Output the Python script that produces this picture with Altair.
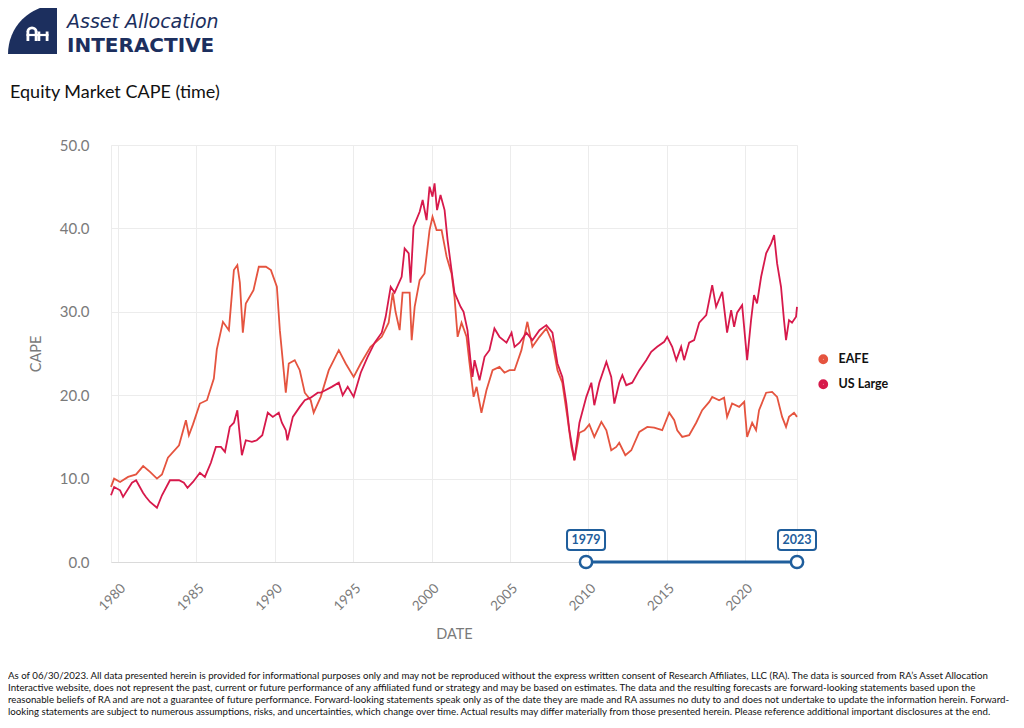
import altair as alt
import pandas as pd

# ---- data (decimal years, CAPE) ----
eafe_year = [1979.55, 1979.75, 1980.13, 1980.64, 1981.15, 1981.6, 1982.04, 1982.48, 1982.8, 1983.18,
             1983.89, 1984.33, 1984.52, 1984.78, 1985.22, 1985.67, 1986.11, 1986.3, 1986.69, 1987.07,
             1987.39, 1987.61, 1987.77, 1987.96, 1988.15, 1988.64, 1988.98, 1989.43, 1989.75, 1990.13,
             1990.32, 1990.7, 1990.89, 1991.27, 1991.59, 1991.91, 1992.29, 1992.48, 1992.93, 1993.44,
             1993.76, 1994.08, 1994.52, 1995.03, 1995.48, 1996.11, 1996.82, 1997.26, 1997.52, 1997.7,
             1997.96, 1998.15, 1998.6, 1998.73, 1998.92, 1999.24, 1999.55, 1999.87, 2000.06, 2000.32,
             2000.64, 2000.96, 2001.27, 2001.46, 2001.66, 2001.91, 2002.23, 2002.42, 2002.68, 2002.87,
             2003.18, 2003.5, 2003.89, 2004.33, 2004.65, 2004.97, 2005.29, 2005.73, 2006.11, 2006.43,
             2006.88, 2007.32, 2007.71, 2008.03, 2008.34, 2008.66, 2008.92, 2009.11, 2009.43, 2009.75,
             2010.06, 2010.38, 2010.83, 2011.15, 2011.46, 2011.78, 2011.97, 2012.36, 2012.74, 2013.25,
             2013.76, 2014.2, 2014.71, 2015.16, 2015.48, 2015.67, 2015.99, 2016.43, 2016.88, 2017.26,
             2017.71, 2017.9, 2018.34, 2018.66, 2018.85, 2019.17, 2019.62, 2019.94, 2020.13, 2020.45,
             2020.7, 2020.89, 2021.34, 2021.72, 2022.04, 2022.36, 2022.61, 2022.8, 2023.12, 2023.31]
eafe_cape = [9.0, 10.0, 9.6, 10.2, 10.5, 11.5, 10.8, 10.0, 10.5, 12.5,
             14.0, 17.0, 15.2, 16.5, 19.0, 19.4, 22.0, 25.5, 28.8, 27.8,
             35.0, 35.6, 33.5, 27.5, 31.0, 32.6, 35.4, 35.4, 35.0, 33.0,
             27.8, 20.3, 23.8, 24.2, 23.0, 20.3, 19.4, 17.9, 19.8, 23.0,
             24.2, 25.4, 23.8, 22.2, 23.8, 25.8, 27.0, 28.7, 32.3, 30.0,
             27.8, 32.3, 32.3, 26.6, 30.6, 33.8, 34.6, 39.8, 41.4, 39.8,
             39.8, 36.6, 34.6, 31.8, 27.0, 28.7, 27.0, 23.8, 19.8, 21.0,
             17.9, 20.6, 23.0, 23.4, 22.7, 23.0, 23.0, 25.4, 28.8, 25.8,
             27.0, 28.0, 26.3, 23.0, 21.5, 17.4, 13.8, 12.2, 15.5, 15.8,
             16.5, 15.0, 16.8, 15.8, 13.4, 13.8, 14.3, 12.8, 13.4, 15.6,
             16.2, 16.1, 15.8, 17.9, 17.0, 15.8, 15.0, 15.2, 16.7, 18.2,
             19.2, 19.8, 19.4, 19.7, 17.4, 19.0, 18.6, 19.2, 15.0, 16.7,
             15.8, 18.2, 20.3, 20.4, 19.8, 17.4, 16.2, 17.4, 17.9, 17.4]

us_year = [1979.55, 1979.75, 1980.13, 1980.32, 1980.89, 1981.15, 1981.59, 1981.78, 1982.04, 1982.48,
           1982.8, 1983.31, 1983.89, 1984.2, 1984.43, 1984.78, 1985.22, 1985.54, 1985.92, 1986.24,
           1986.56, 1986.82, 1987.13, 1987.39, 1987.61, 1987.71, 1987.9, 1988.15, 1988.54, 1988.85,
           1989.2, 1989.55, 1989.87, 1990.25, 1990.45, 1990.7, 1990.8, 1991.15, 1991.59, 1991.91,
           1992.29, 1992.74, 1992.93, 1993.63, 1994.08, 1994.33, 1994.65, 1995.03, 1995.48, 1995.92,
           1996.37, 1996.82, 1997.07, 1997.39, 1997.64, 1998.09, 1998.28, 1998.54, 1998.66, 1998.85,
           1999.24, 1999.43, 1999.68, 1999.87, 2000.06, 2000.19, 2000.35, 2000.57, 2000.83, 2001.02,
           2001.27, 2001.46, 2001.85, 2002.04, 2002.29, 2002.48, 2002.61, 2002.74, 2003.06, 2003.38,
           2003.69, 2004.01, 2004.33, 2004.78, 2005.1, 2005.29, 2005.61, 2006.05, 2006.43, 2006.88,
           2007.32, 2007.71, 2008.03, 2008.34, 2008.6, 2008.79, 2009.11, 2009.43, 2009.87, 2010.19,
           2010.38, 2010.7, 2011.15, 2011.46, 2011.66, 2011.97, 2012.17, 2012.42, 2012.8, 2013.25,
           2013.69, 2014.01, 2014.39, 2014.84, 2015.03, 2015.35, 2015.61, 2015.92, 2016.11, 2016.43,
           2016.75, 2017.07, 2017.52, 2017.9, 2018.15, 2018.54, 2018.85, 2019.11, 2019.3, 2019.49,
           2019.81, 2020.13, 2020.38, 2020.57, 2020.76, 2021.02, 2021.34, 2021.66, 2021.85, 2022.04,
           2022.29, 2022.48, 2022.61, 2022.8, 2022.99, 2023.25, 2023.31]
us_cape = [8.0, 9.0, 8.6, 7.8, 9.5, 9.8, 8.3, 7.8, 7.2, 6.5,
           8.0, 9.8, 9.8, 9.5, 8.9, 9.6, 10.7, 10.2, 11.9, 13.8,
           13.8, 13.2, 16.2, 16.7, 18.2, 16.2, 12.8, 14.6, 14.4, 14.6,
           15.2, 17.9, 17.4, 17.9, 16.7, 15.8, 14.6, 17.4, 18.6, 19.4,
           19.7, 20.3, 20.3, 21.0, 21.5, 20.0, 21.0, 19.8, 22.7, 24.6,
           26.3, 27.5, 29.4, 33.0, 32.3, 34.2, 37.6, 37.0, 33.5, 40.2,
           42.0, 43.4, 41.0, 45.0, 43.8, 45.4, 42.2, 44.0, 42.2, 38.6,
           35.0, 32.3, 30.6, 30.0, 27.8, 24.2, 22.2, 24.2, 21.8, 24.6,
           25.4, 28.0, 27.0, 26.3, 27.5, 25.8, 26.3, 27.5, 26.6, 27.8,
           28.4, 27.5, 23.8, 22.2, 19.0, 15.8, 12.2, 16.7, 19.8, 21.5,
           18.8, 21.5, 24.0, 22.2, 19.0, 21.5, 22.4, 21.2, 21.5, 23.0,
           24.2, 25.2, 25.8, 26.4, 27.0, 25.8, 24.2, 25.8, 24.2, 26.3,
           26.6, 28.7, 29.6, 33.2, 30.6, 32.4, 27.5, 30.2, 28.2, 29.9,
           30.8, 24.2, 29.0, 32.0, 31.0, 34.2, 37.0, 38.2, 39.2, 35.8,
           33.0, 29.0, 26.6, 29.0, 28.7, 29.4, 30.6]

series_names = ["EAFE", "US Large"]
series_colors = ["#E5543F", "#D7194B"]
x_tick_years = [1980, 1985, 1990, 1995, 2000, 2005, 2010, 2015, 2020]
y_ticks = [0, 10, 20, 30, 40, 50]
slider_pos_year = [2009.85, 2023.31]
slider_labels = ["1979", "2023"]

footnote_lines = [
    "As of 06/30/2023. All data presented herein is provided for informational purposes only and may not be reproduced without the express written consent of Research Affiliates, LLC (RA). The data is sourced from RA\u2019s Asset Allocation",
    "Interactive website, does not represent the past, current or future performance of any affiliated fund or strategy and may be based on estimates. The data and the resulting forecasts are forward-looking statements based upon the",
    "reasonable beliefs of RA and are not a guarantee of future performance. Forward-looking statements speak only as of the date they are made and RA assumes no duty to and does not undertake to update the information herein. Forward-",
    "looking statements are subject to numerous assumptions, risks, and uncertainties, which change over time. Actual results may differ materially from those presented herein. Please reference additional important disclosures at the end.",
]


def to_date(y):
    yr = int(y)
    return pd.Timestamp(year=yr, month=1, day=1) + pd.Timedelta(days=(y - yr) * 365.25)


eafe_df = pd.DataFrame({"date": [to_date(v) for v in eafe_year], "cape": eafe_cape, "series": "EAFE"})
us_df = pd.DataFrame({"date": [to_date(v) for v in us_year], "cape": us_cape, "series": "US Large"})
slider_df = pd.DataFrame({"date": [to_date(v) for v in slider_pos_year], "label": slider_labels, "v": [0, 0]})
slider_span = pd.DataFrame({"start": [to_date(slider_pos_year[0])], "end": [to_date(slider_pos_year[1])], "v": [0]})

FONT = "Lato"
LOGO_FONT = "DejaVu Sans"
GREY = "#7a7a7a"
NAVY = "#1c2f5e"
BLUE = "#1f5e9c"

x_dom = [to_date(min(eafe_year[0], us_year[0])).isoformat(), to_date(max(eafe_year[-1], us_year[-1])).isoformat()]

x_enc = alt.X(
    "date:T",
    scale=alt.Scale(domain=x_dom, nice=False),
    axis=alt.Axis(
        title="DATE", values=[alt.DateTime(year=y, month=1, date=1) for y in x_tick_years], format="%Y",
        labelAngle=-45, labelFontSize=13.5, labelColor=GREY, labelFont=FONT, labelPadding=19,
        ticks=False, domain=True, domainColor="#dadada", gridColor="#ececec",
        titleFont=FONT, titleFontSize=14.5, titleColor=GREY, titleFontWeight="normal", titlePadding=15,
    ),
)
y_enc = alt.Y(
    "cape:Q",
    scale=alt.Scale(domain=[0, 50], nice=False),
    axis=alt.Axis(
        title="CAPE", values=y_ticks, format=".1f", labelFontSize=15, labelColor=GREY, labelFont=FONT,
        labelPadding=22, ticks=False, domain=False, gridColor="#ececec",
        titleFont=FONT, titleFontSize=14.5, titleColor=GREY, titleFontWeight="normal", titlePadding=16,
    ),
)
color_enc = alt.Color(
    "series:N",
    scale=alt.Scale(domain=series_names, range=series_colors),
    legend=alt.Legend(
        title=None, orient="none", legendX=706, legendY=208, symbolType="circle", symbolSize=28,
        symbolStrokeWidth=4.5, labelFont=FONT, labelFontSize=12.5, labelFontWeight="bold", labelColor="#111",
        labelOffset=9, rowPadding=1, padding=0,
    ),
)

eafe_line = alt.Chart(eafe_df).mark_line(strokeWidth=1.8).encode(x=x_enc, y=y_enc, color=color_enc)
us_line = alt.Chart(us_df).mark_line(strokeWidth=1.8).encode(x="date:T", y="cape:Q", color=color_enc)

s_rule = alt.Chart(slider_span).mark_rule(color=BLUE, strokeWidth=3).encode(
    x="start:T", x2="end:T", y=alt.Y("v:Q"))
s_handles = alt.Chart(slider_df).mark_point(
    shape="circle", filled=True, fill="white", stroke=BLUE, strokeWidth=2.5, size=150, opacity=1
).encode(x="date:T", y="v:Q")
s_boxes = alt.Chart(slider_df).mark_rect(
    fill="white", stroke=BLUE, strokeWidth=2, cornerRadius=3,
    xOffset=-19, x2Offset=19, yOffset=-32, y2Offset=-12
).encode(x="date:T", x2="date:T", y="v:Q", y2="v:Q")
s_text = alt.Chart(slider_df).mark_text(
    font=FONT, fontSize=12.5, fontWeight="bold", color=BLUE, dy=-22, baseline="middle"
).encode(x="date:T", y="v:Q", text="label:N")

one = pd.DataFrame({"k": [0]})

logo_disc = alt.Chart(one).mark_arc(theta=4.7124, theta2=6.2832, outerRadius=49, radius=49, color=NAVY).encode(
    x=alt.value(-54), y=alt.value(-91))
arch_df = pd.DataFrame({"cx": [-79, -68]})
logo_arches = alt.Chart(arch_df).mark_arc(theta=4.7124, theta2=7.854, outerRadius=5.6, innerRadius=2.8, color="white").encode(
    x=alt.X("cx:Q", scale=None), y=alt.value(-113))
leg_df = pd.DataFrame({"lx": [-83.1, -74.9, -72.1, -63.9]})
logo_legs = alt.Chart(leg_df).mark_rule(color="white", strokeWidth=2.8).encode(
    x=alt.X("lx:Q", scale=None), y=alt.value(-113.5), y2=alt.value(-104))
logo_bar = alt.Chart(one).mark_rule(color="white", strokeWidth=2.2).encode(
    x=alt.value(-84.5), x2=alt.value(-62.5), y=alt.value(-110))

logo_t1 = alt.Chart(one).mark_text(text="Asset Allocation", font=LOGO_FONT, fontSize=19, fontStyle="italic",
                                   color=NAVY, align="left", baseline="alphabetic").encode(
    x=alt.value(-44), y=alt.value(-117))
logo_t2 = alt.Chart(one).mark_text(text="INTERACTIVE", font=LOGO_FONT, fontSize=20, fontWeight="bold",
                                   color=NAVY, align="left", baseline="alphabetic").encode(
    x=alt.value(-44), y=alt.value(-93.5))
title_t = alt.Chart(one).mark_text(text="Equity Market CAPE (time)", font=FONT, fontSize=18,
                                   color="#111", align="left", baseline="alphabetic").encode(
    x=alt.value(-101), y=alt.value(-47))

foot_df = pd.DataFrame({"line": footnote_lines, "yy": [531, 543, 555, 567]})
foot = alt.Chart(foot_df).mark_text(font=FONT, fontSize=9.7, color="#111", align="left", baseline="middle").encode(
    x=alt.value(-103), y=alt.Y("yy:Q", scale=None), text="line:N")

chart = alt.layer(
    eafe_line, us_line, s_rule, s_handles, s_boxes, s_text,
    logo_disc, logo_arches, logo_legs, logo_bar, logo_t1, logo_t2, title_t, foot,
).properties(
    width=686, height=417,
    padding={"left": 103, "top": 137, "right": 219, "bottom": 158},
    autosize=alt.AutoSizeParams(type="none"),
).configure_view(stroke="#ececec", strokeWidth=1)

chart.save("out.html", embed_options={"renderer": "svg", "actions": False})
